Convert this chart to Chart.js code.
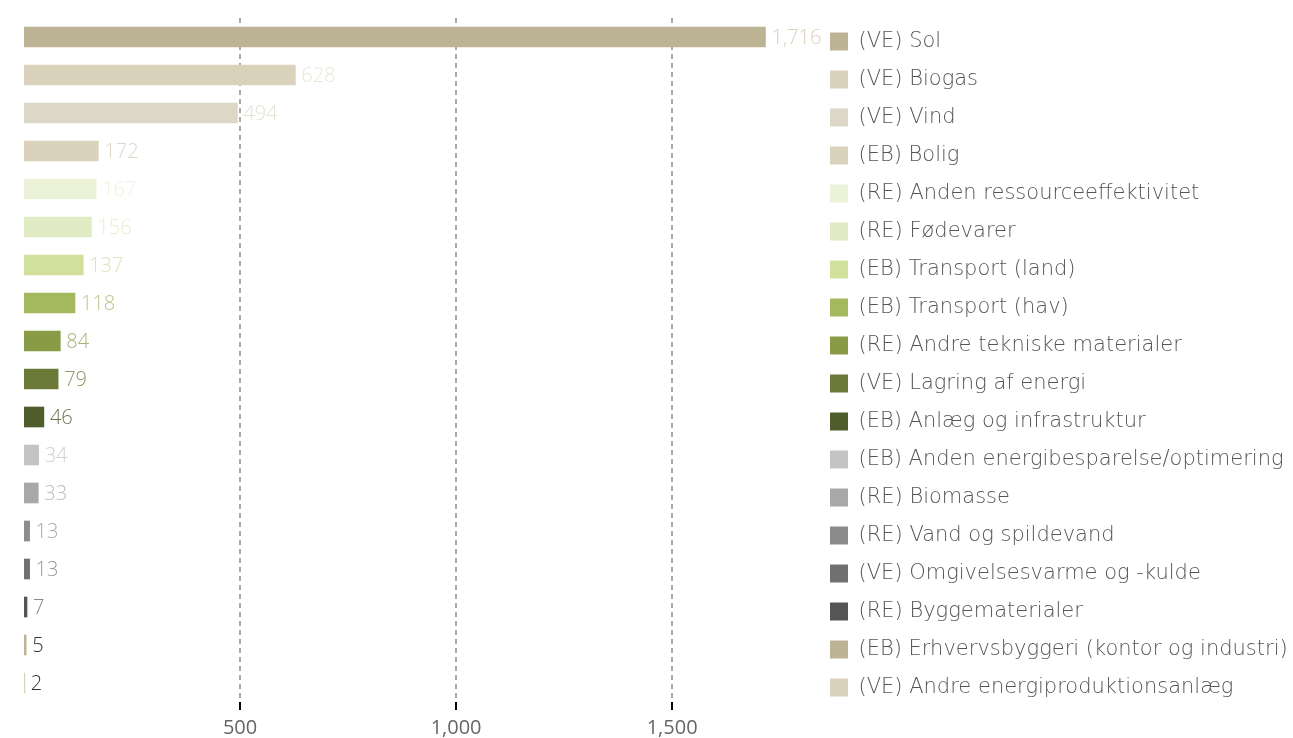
<!DOCTYPE html>
<html>
<head>
<meta charset="utf-8">
<script src="https://cdn.jsdelivr.net/npm/chart.js@4"></script>
<style>
  body { margin: 0; background: #fff; }
  #wrap { width: 1293px; height: 738px; position: relative; }
</style>
</head>
<body>
<div id="wrap"><canvas id="chart"></canvas></div>
<script>
// categories (top to bottom)
const categories = [
    '(VE) Sol',
    '(VE) Biogas',
    '(VE) Vind',
    '(EB) Bolig',
    '(RE) Anden ressourceeffektivitet',
    '(RE) Fødevarer',
    '(EB) Transport (land)',
    '(EB) Transport (hav)',
    '(RE) Andre tekniske materialer',
    '(VE) Lagring af energi',
    '(EB) Anlæg og infrastruktur',
    '(EB) Anden energibesparelse/optimering',
    '(RE) Biomasse',
    '(RE) Vand og spildevand',
    '(VE) Omgivelsesvarme og -kulde',
    '(RE) Byggematerialer',
    '(EB) Erhvervsbyggeri (kontor og industri)',
    '(VE) Andre energiproduktionsanlæg'
];

const values = [1716, 628, 494, 172, 167, 156, 137, 118, 84, 79, 46, 34, 33, 13, 13, 7, 5, 2];

const barColors = [
    '#bdb395', '#dbd2bc', '#ddd7c7', '#dbd2bc', '#ebf2d8', '#e0ebc3',
    '#d1e09a', '#a4b85e', '#8a9b45', '#6b7a38', '#4f5c2b', '#c4c4c4',
    '#a8a8a8', '#8c8c8c', '#707070', '#555555', '#bdb395', '#dbd2bc'
];

const labelColors = [
    '#d8d0bc', '#ece6da', '#e5e1d6', '#ddd6c6', '#eef3dd', '#e7efcf',
    '#dbe6b5', '#b9c88a', '#a6b47a', '#8f9a66', '#6b7653', '#cfcfcf',
    '#bcbcbc', '#aaaaaa', '#999999', '#888888', '#333333', '#333333'
];

const xTicks = [500, 1000, 1500];
const xMax = 1826;

const fmt = v => v.toLocaleString('en-US');

// value labels to the right of each bar
const valueLabels = {
    id: 'valueLabels',
    afterDatasetsDraw(chart) {
        const ctx = chart.ctx;
        const meta = chart.getDatasetMeta(0);
        ctx.save();
        ctx.font = "300 20px 'Open Sans'";
        ctx.textAlign = 'left';
        ctx.textBaseline = 'middle';
        meta.data.forEach((bar, i) => {
            ctx.fillStyle = labelColors[i];
            ctx.fillText(fmt(values[i]), bar.x + 6, bar.y + 1);
        });
        ctx.restore();
    }
};

Chart.defaults.font.family = "'Open Sans'";

new Chart(document.getElementById('chart'), {
    type: 'bar',
    data: {
        labels: categories,
        datasets: [{
            data: values,
            backgroundColor: barColors,
            borderWidth: 0,
            barThickness: 20
        }]
    },
    plugins: [valueLabels],
    options: {
        indexAxis: 'y',
        responsive: true,
        maintainAspectRatio: false,
        animation: false,
        layout: { padding: { top: 14, left: 24, right: 0, bottom: 0 } },
        scales: {
            x: {
                min: 0,
                max: xMax,
                afterBuildTicks: scale => {
                    scale.ticks = xTicks.map(v => ({ value: v }));
                },
                afterFit: scale => {
                    scale.height = 36;
                },
                ticks: {
                    color: '#666',
                    padding: 8,
                    font: { size: 20, lineHeight: 1 },
                    callback: v => fmt(v)
                },
                grid: {
                    color: '#aaaaaa',
                    lineWidth: 2,
                    tickLength: 8,
                    tickColor: '#000',
                    tickWidth: 2
                },
                border: { display: false, dash: [5, 4] }
            },
            y: { display: false }
        },
        plugins: {
            title: {
                display: true,
                text: '',
                font: { size: 0 },
                padding: { top: 0, bottom: 4 }
            },
            tooltip: { enabled: false },
            legend: {
                position: 'right',
                align: 'start',
                maxWidth: 480,
                labels: {
                    boxWidth: 18,
                    boxHeight: 18,
                    padding: 17,
                    color: '#555',
                    font: { family: "'DejaVu Sans'", weight: 200, size: 21 },
                    generateLabels: chart => chart.data.labels.map((label, i) => ({
                        text: label,
                        fillStyle: barColors[i],
                        strokeStyle: barColors[i],
                        lineWidth: 0,
                        fontColor: '#555',
                        index: i
                    }))
                }
            }
        }
    }
});
</script>
</body>
</html>
